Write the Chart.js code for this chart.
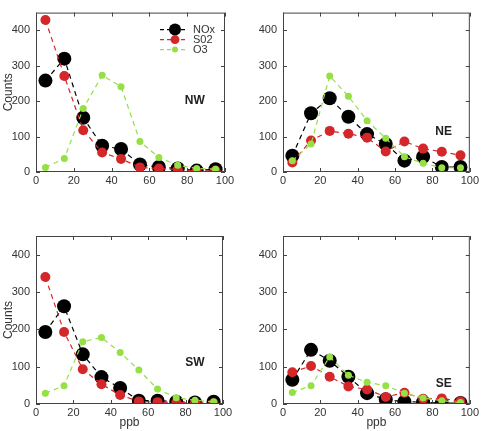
<!DOCTYPE html>
<html>
<head>
<meta charset="utf-8">
<script src="https://cdn.jsdelivr.net/npm/chart.js@4.4.1/dist/chart.umd.min.js"></script>
<style>
  body { margin: 0; background: #fff; }
  #wrap { position: relative; width: 481px; height: 431px; overflow: hidden; }
  canvas { position: absolute; }
</style>
</head>
<body>
<div id="wrap">
  <canvas id="nw" width="240" height="200" style="left:0;top:0"></canvas>
  <canvas id="ne" width="241" height="200" style="left:240px;top:0"></canvas>
  <canvas id="sw" width="240" height="211" style="left:0;top:220px"></canvas>
  <canvas id="se" width="241" height="211" style="left:240px;top:220px"></canvas>
</div>
<script>
// concentration bins (ppb) and tick labels
const ppb = [5, 15, 25, 35, 45, 55, 65, 75, 85, 95];
const xTicks = [0, 20, 40, 60, 80, 100];
const yTicks = [0, 100, 200, 300, 400];
const seriesNames = ['NOx', 'S02', 'O3'];

// NW sector
const nwNOx = [258, 320, 153, 74, 65, 21, 14, 10, 4, 8];
const nwSO2 = [429, 271, 118, 55, 37, 13, 10, 7, 2, 4];
const nwO3  = [13, 38, 179, 273, 241, 86, 41, 19, 10, 8];
// NE sector
const neNOx = [46, 166, 208, 156, 107, 79, 32, 43, 14, 14];
const neSO2 = [27, 89, 116, 108, 97, 58, 86, 66, 57, 47];
const neO3  = [32, 79, 271, 214, 145, 95, 43, 25, 12, 12];
// SW sector
const swNOx = [193, 262, 133, 72, 43, 9, 9, 6, 4, 6];
const swSO2 = [340, 193, 93, 53, 24, 7, 5, 4, 3, 2];
const swO3  = [29, 49, 167, 178, 138, 91, 40, 17, 10, 6];
// SE sector
const seNOx = [65, 145, 116, 73, 29, 12, 6, 5, 2, 3];
const seSO2 = [85, 102, 73, 47, 39, 19, 30, 14, 15, 7];
const seO3  = [31, 49, 126, 77, 58, 49, 29, 16, 9, 4];

const colors = ['#000000', '#d3272a', '#95e044'];
const radii = [7, 5, 3.5];
const FONT = '"Liberation Sans", Arial, sans-serif';

const toPts = vals => ppb.map((x, i) => ({ x: x, y: vals[i] }));

// box, inward ticks, sector tag and (optionally) legend
const framePlugin = {
  id: 'frame',
  afterDatasetsDraw(chart, args, opts) {
    const { ctx, chartArea: a, scales: { x, y } } = chart;
    ctx.save();
    ctx.strokeStyle = '#444';
    ctx.lineWidth = 1;
    ctx.strokeRect(a.left + 0.5, a.top + 0.5, a.right - a.left - 1, a.bottom - a.top - 1);
    ctx.beginPath();
    xTicks.forEach(v => {
      const px = Math.round(x.getPixelForValue(v)) + 0.5;
      ctx.moveTo(px, a.bottom); ctx.lineTo(px, a.bottom - 4);
      ctx.moveTo(px, a.top); ctx.lineTo(px, a.top + 4);
    });
    yTicks.forEach(v => {
      const py = Math.round(y.getPixelForValue(v)) + 0.5;
      ctx.moveTo(a.left, py); ctx.lineTo(a.left + 4, py);
      ctx.moveTo(a.right, py); ctx.lineTo(a.right - 4, py);
    });
    ctx.stroke();

    // sector tag
    ctx.fillStyle = '#222';
    ctx.font = 'bold 12px ' + FONT;
    ctx.textAlign = 'center';
    ctx.textBaseline = 'middle';
    ctx.fillText(opts.tag, x.getPixelForValue(opts.tagX), y.getPixelForValue(opts.tagY));

    if (opts.legend) {
      const legR = [6, 4.5, 3];
      seriesNames.forEach((name, i) => {
        const ly = a.top + 17 + i * 10;
        ctx.strokeStyle = colors[i];
        ctx.lineWidth = 1.2;
        ctx.setLineDash([4, 3]);
        ctx.beginPath();
        ctx.moveTo(a.right - 65, ly); ctx.lineTo(a.right - 37, ly);
        ctx.stroke();
        ctx.setLineDash([]);
        ctx.fillStyle = colors[i];
        ctx.beginPath();
        ctx.arc(a.right - 50, ly, legR[i], 0, Math.PI * 2);
        ctx.fill();
        ctx.fillStyle = '#333';
        ctx.font = '11px ' + FONT;
        ctx.textAlign = 'left';
        ctx.fillText(name, a.right - 32, ly + 0.5);
      });
    }
    ctx.restore();
  }
};

function panel(id, nox, so2, o3, cfg) {
  const sets = [nox, so2, o3].map((vals, i) => ({
    label: seriesNames[i],
    data: toPts(vals),
    borderColor: colors[i],
    backgroundColor: colors[i],
    borderWidth: 1.2,
    borderDash: [5, 4],
    pointRadius: radii[i],
    pointBorderWidth: 0,
    showLine: true,
    tension: 0,
    order: 3 - i
  }));
  new Chart(document.getElementById(id), {
    type: 'scatter',
    data: { datasets: sets },
    options: {
      responsive: false,
      animation: false,
      layout: { padding: { top: cfg.top, right: cfg.right, left: 0, bottom: 0 } },
      plugins: {
        legend: { display: false },
        tooltip: { enabled: false },
        frame: { tag: cfg.tag, tagX: cfg.tagX, tagY: cfg.tagY, legend: !!cfg.legend }
      },
      scales: {
        x: {
          type: 'linear', min: 0, max: 100,
          grid: { display: false, drawTicks: false },
          border: { display: false },
          ticks: { stepSize: 20, padding: 2, color: '#333', font: { family: FONT, size: 11 } },
          title: { display: !!cfg.xTitle, text: 'ppb', color: '#333', padding: { top: 0, bottom: 1 }, font: { family: FONT, size: 12 } },
          afterFit: s => { s.height = cfg.xh; }
        },
        y: {
          min: 0, max: 450,
          grid: { display: false, drawTicks: false },
          border: { display: false },
          ticks: { stepSize: 100, includeBounds: false, padding: 6, color: '#333', font: { family: FONT, size: 11 } },
          title: { display: !!cfg.yTitle, text: 'Counts', color: '#333', padding: { top: 1, bottom: 0 }, font: { family: FONT, size: 12 } },
          afterFit: s => { s.width = cfg.yw; }
        }
      }
    },
    plugins: [framePlugin]
  });
}

panel('nw', nwNOx, nwSO2, nwO3, { top: 5, right: 15, yw: 36, xh: 28, yTitle: true, tag: 'NW', tagX: 84, tagY: 201, legend: true });
panel('ne', neNOx, neSO2, neO3, { top: 5, right: 11, yw: 43, xh: 28, tag: 'NE', tagX: 86, tagY: 115 });
panel('sw', swNOx, swSO2, swO3, { top: 16, right: 17, yw: 36, xh: 27, yTitle: true, xTitle: true, tag: 'SW', tagX: 85, tagY: 111 });
panel('se', seNOx, seSO2, seO3, { top: 16, right: 11, yw: 43, xh: 27, xTitle: true, tag: 'SE', tagX: 86, tagY: 54 });
</script>
</body>
</html>
